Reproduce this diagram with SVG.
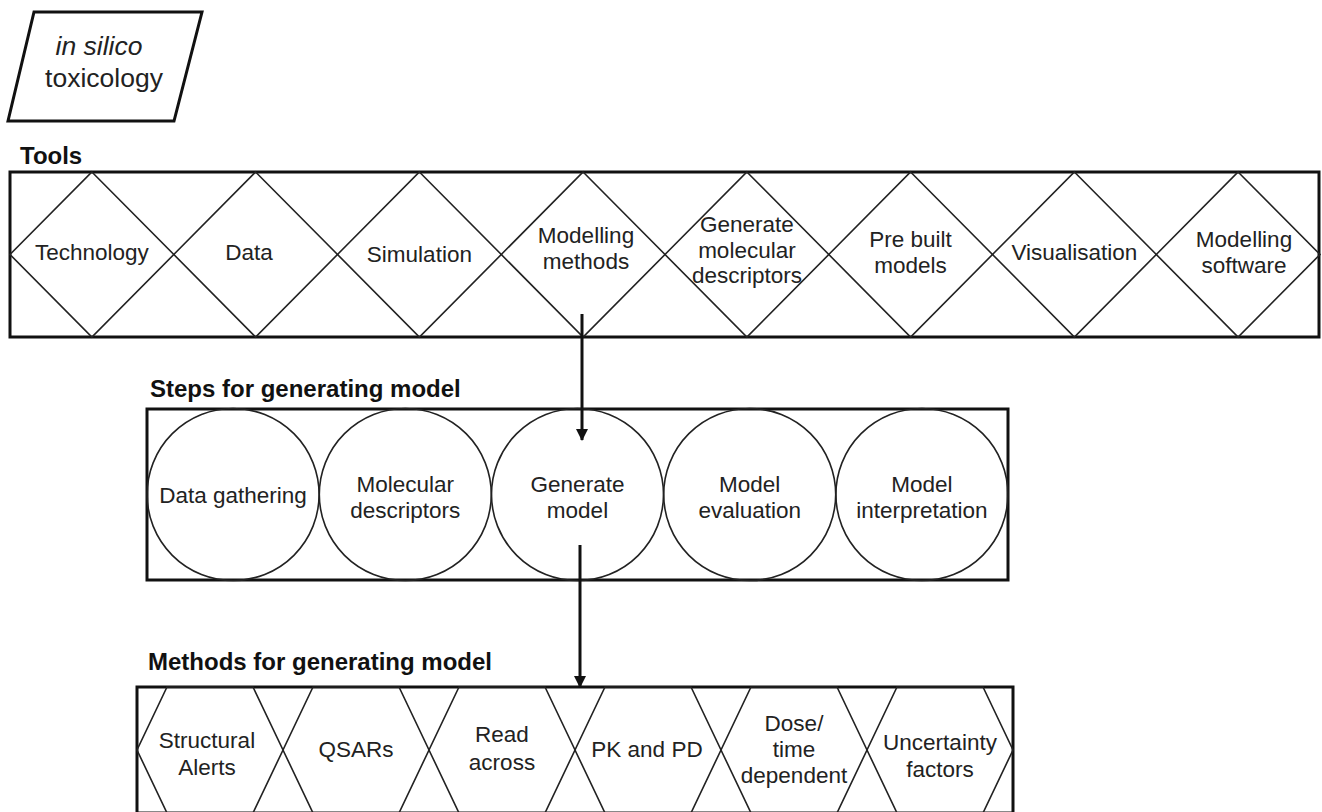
<svg xmlns="http://www.w3.org/2000/svg" width="1322" height="812" viewBox="0 0 1322 812">
  <defs>
    <marker id="arrowhead" viewBox="0 0 12 12" refX="11" refY="6" markerWidth="12" markerHeight="12" markerUnits="userSpaceOnUse" orient="auto">
      <path d="M0,0 L12,6 L0,12 Z" fill="#111"/>
    </marker>
  </defs>
  <style>
    .frame { fill: none; stroke: #111; stroke-width: 3; }
    .shape { fill: none; stroke: #222; stroke-width: 1.6; }
    .lbl { font-family: "Liberation Sans", Arial, sans-serif; font-size: 22.5px; fill: #222; text-anchor: middle; }
    .head { font-family: "Liberation Sans", Arial, sans-serif; font-size: 24px; font-weight: bold; fill: #111; }
    .conn { stroke: #111; stroke-width: 3; fill: none; }
  </style>
  <rect width="1322" height="812" fill="#fff"/>

  <!-- title card -->
  <g id="title">
    <polygon class="frame" points="34,12 202,12 174,121 8,121"/>
    <text x="99" y="55" class="lbl" style="font-size:26.5px;font-style:italic">in silico</text>
    <text x="104" y="87" class="lbl" style="font-size:26.5px">toxicology</text>
  </g>

  <!-- Tools band -->
  <g id="tools">
    <text x="20" y="164" class="head">Tools</text>
    <rect class="frame" x="10" y="172" width="1309" height="165"/>
    <g id="tool-technology">
      <polygon class="shape" points="91.9,172 173.8,254.5 91.9,337 10,254.5"/>
      <text x="91.9" y="260" class="lbl">Technology</text>
    </g>
    <g id="tool-data">
      <polygon class="shape" points="255.6,172 337.5,254.5 255.6,337 173.8,254.5"/>
      <text x="249" y="260" class="lbl">Data</text>
    </g>
    <g id="tool-simulation">
      <polygon class="shape" points="419.4,172 501.3,254.5 419.4,337 337.5,254.5"/>
      <text x="419.4" y="262" class="lbl">Simulation</text>
    </g>
    <g id="tool-modelling-methods">
      <polygon class="shape" points="583.1,172 665,254.5 583.1,337 501.3,254.5"/>
      <text x="586" y="243" class="lbl">Modelling</text>
      <text x="586" y="269" class="lbl">methods</text>
    </g>
    <g id="tool-descriptors">
      <polygon class="shape" points="746.9,172 828.8,254.5 746.9,337 665,254.5"/>
      <text x="746.9" y="232" class="lbl">Generate</text>
      <text x="746.9" y="258" class="lbl">molecular</text>
      <text x="746.9" y="283" class="lbl">descriptors</text>
    </g>
    <g id="tool-prebuilt">
      <polygon class="shape" points="910.6,172 992.5,254.5 910.6,337 828.8,254.5"/>
      <text x="910.6" y="247" class="lbl">Pre built</text>
      <text x="910.6" y="273" class="lbl">models</text>
    </g>
    <g id="tool-visualisation">
      <polygon class="shape" points="1074.4,172 1156.3,254.5 1074.4,337 992.5,254.5"/>
      <text x="1074.4" y="260" class="lbl">Visualisation</text>
    </g>
    <g id="tool-software">
      <polygon class="shape" points="1238.1,172 1320,254.5 1238.1,337 1156.3,254.5"/>
      <text x="1244" y="247" class="lbl">Modelling</text>
      <text x="1244" y="273" class="lbl">software</text>
    </g>
  </g>

  <!-- Steps band -->
  <g id="steps">
    <text x="150" y="397" class="head">Steps for generating model</text>
    <rect class="frame" x="147" y="409" width="861" height="171"/>
    <g id="step-data-gathering">
      <circle class="shape" cx="233.1" cy="494.5" r="86"/>
      <text x="233.1" y="503" class="lbl">Data gathering</text>
    </g>
    <g id="step-molecular-descriptors">
      <circle class="shape" cx="405.3" cy="494.5" r="86"/>
      <text x="405.3" y="492" class="lbl">Molecular</text>
      <text x="405.3" y="518" class="lbl">descriptors</text>
    </g>
    <g id="step-generate-model">
      <circle class="shape" cx="577.5" cy="494.5" r="86"/>
      <text x="577.5" y="492" class="lbl">Generate</text>
      <text x="577.5" y="518" class="lbl">model</text>
    </g>
    <g id="step-model-evaluation">
      <circle class="shape" cx="749.7" cy="494.5" r="86"/>
      <text x="749.7" y="492" class="lbl">Model</text>
      <text x="749.7" y="518" class="lbl">evaluation</text>
    </g>
    <g id="step-model-interpretation">
      <circle class="shape" cx="921.9" cy="494.5" r="86"/>
      <text x="921.9" y="492" class="lbl">Model</text>
      <text x="921.9" y="518" class="lbl">interpretation</text>
    </g>
  </g>

  <!-- Methods band (runs off the bottom edge) -->
  <g id="methods">
    <text x="148" y="670" class="head">Methods for generating model</text>
    <rect class="frame" x="137" y="687" width="876" height="126"/>
    <g id="method-structural-alerts">
      <polygon class="shape" points="167,687 253,687 283,750 253,813 167,813 137,750"/>
      <text x="207" y="748" class="lbl">Structural</text>
      <text x="207" y="775" class="lbl">Alerts</text>
    </g>
    <g id="method-qsars">
      <polygon class="shape" points="313,687 399,687 429,750 399,813 313,813 283,750"/>
      <text x="356" y="757" class="lbl">QSARs</text>
    </g>
    <g id="method-read-across">
      <polygon class="shape" points="459,687 545,687 575,750 545,813 459,813 429,750"/>
      <text x="502" y="742" class="lbl">Read</text>
      <text x="502" y="770" class="lbl">across</text>
    </g>
    <g id="method-pk-pd">
      <polygon class="shape" points="605,687 691,687 721,750 691,813 605,813 575,750"/>
      <text x="647" y="757" class="lbl">PK and PD</text>
    </g>
    <g id="method-dose-time">
      <polygon class="shape" points="751,687 837,687 867,750 837,813 751,813 721,750"/>
      <text x="794" y="731" class="lbl">Dose/</text>
      <text x="794" y="757" class="lbl">time</text>
      <text x="794" y="783" class="lbl">dependent</text>
    </g>
    <g id="method-uncertainty">
      <polygon class="shape" points="897,687 983,687 1013,750 983,813 897,813 867,750"/>
      <text x="940" y="750" class="lbl">Uncertainty</text>
      <text x="940" y="777" class="lbl">factors</text>
    </g>
  </g>

  <!-- connectors -->
  <g id="connectors">
    <line class="conn" x1="582" y1="314" x2="582" y2="440" marker-end="url(#arrowhead)"/>
    <line class="conn" x1="580" y1="545" x2="580" y2="687" marker-end="url(#arrowhead)"/>
  </g>
</svg>
